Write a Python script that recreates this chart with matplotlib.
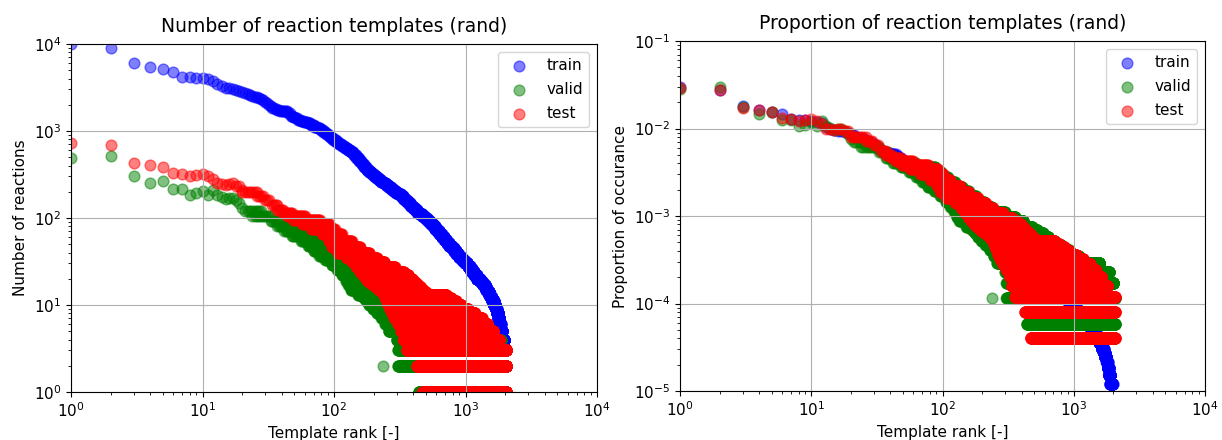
import numpy as np
import matplotlib
matplotlib.use("Agg")
import matplotlib.pyplot as plt

# totals used to turn counts into proportions
TRAIN_TOTAL = 330000
VALID_TOTAL = 17300
TEST_TOTAL = 25000

# train: first 40 ranks read point by point
train_top = [9900, 9000, 6000, 5400, 5150, 4800, 4200, 4150, 4100, 4030, 3930, 3790,
             3440, 3300, 3150, 3080, 3060, 2980, 2900, 2830, 2750, 2670, 2600, 2540,
             2490, 2440, 2400, 2330, 2270, 2180, 2080, 1990, 1920, 1860, 1820, 1790,
             1760, 1740, 1720, 1710]
# train beyond rank 40: count and last rank having that count (sorted curve)
train_level_count = [1695, 1680, 1600, 1500, 1450, 1410, 1330, 1300, 1270, 1220, 1170,
                     1120, 1070, 1020, 970, 920, 875, 820, 780, 740, 710, 680, 645, 610,
                     570, 530, 495, 455, 420, 385, 360, 340, 322, 305, 290, 275, 261, 250,
                     238, 225, 215, 205, 196, 188, 177, 167, 156, 147, 138, 130, 122, 115,
                     110, 105, 100, 95, 90, 85, 80, 75, 70, 65, 60, 56, 52, 48, 45, 42, 39,
                     36, 34, 32, 30, 28, 26, 24, 22, 20, 19, 18, 17, 16, 15, 14, 13, 12,
                     11, 10, 9, 8, 7, 6, 5, 4]
train_level_last = [42, 44, 46, 48, 50, 52, 55, 58, 62, 66, 70, 74, 78, 82, 86, 90, 94,
                    98, 103, 108, 114, 120, 126, 133, 140, 147, 154, 161, 168, 176, 184,
                    192, 200, 209, 218, 227, 237, 247, 258, 270, 282, 295, 308, 322, 336,
                    350, 365, 380, 396, 413, 430, 448, 467, 487, 507, 525, 543, 565, 585,
                    607, 632, 658, 690, 717, 750, 785, 815, 850, 885, 925, 955, 990, 1035,
                    1077, 1120, 1165, 1215, 1285, 1325, 1365, 1410, 1435, 1470, 1515, 1550,
                    1600, 1640, 1690, 1725, 1775, 1810, 1850, 1900, 1975]

# valid / test: first 20 ranks read point by point
valid_top = [493, 520, 304, 255, 266, 215, 216, 184, 192, 205, 185, 210, 185, 175,
             165, 170, 172, 160, 150, 130]
test_top = [734, 684, 432, 404, 385, 326, 320, 304, 312, 320, 305, 278, 250, 245,
            240, 245, 250, 235, 235, 210]

# valid / test beyond rank 20: for each count, first and last rank where it appears
valid_level_count = [120, 105, 92, 80, 70, 62, 55, 48, 42, 37, 33, 29, 25, 22, 19, 17,
                     15, 13, 12, 11, 10, 9, 8, 7, 6, 5, 4, 3, 2, 1]
valid_level_first = [21, 24, 33, 37, 42, 48, 56, 63, 70, 77, 86, 96, 106, 115, 123, 128,
                     134, 152, 168, 176, 185, 198, 212, 229, 245, 260, 300, 307, 307, 440]
valid_level_last = [28, 33, 38, 46, 63, 88, 98, 110, 125, 142, 158, 180, 208, 237, 299,
                    358, 414, 483, 528, 581, 640, 708, 795, 917, 1087, 1570, 1850, 2000,
                    2050, 2050]
valid_extra_rank = [237]
valid_extra_count = [2]

test_level_count = [200, 180, 160, 140, 125, 115, 105, 95, 85, 75, 65, 55, 47, 40, 35,
                    31, 27, 24, 22, 20, 19, 18, 17, 16, 15, 14, 13, 12, 11, 10, 9, 8,
                    7, 6, 5, 4, 3, 2, 1]
test_level_first = [20, 26, 30, 34, 37, 41, 44, 49, 57, 67, 81, 91, 96, 107, 125, 138,
                    148, 158, 166, 174, 180, 188, 198, 208, 219, 232, 240, 245, 251, 258,
                    266, 275, 287, 307, 324, 337, 357, 425, 470]
test_level_last = [26, 29, 32, 37, 41, 48, 60, 78, 92, 101, 115, 136, 158, 186, 213,
                   242, 290, 339, 368, 393, 405, 421, 438, 455, 476, 498, 713, 773, 845,
                   930, 1040, 1172, 1327, 1466, 1617, 1800, 2050, 2050, 2050]


def expand(top, lvl_count, lvl_first, lvl_last, extra_rank=(), extra_count=()):
    ranks = list(range(1, len(top) + 1))
    counts = list(top)
    for c, a, b in zip(lvl_count, lvl_first, lvl_last):
        r = np.arange(a, b + 1)
        ranks.extend(r)
        counts.extend([c] * len(r))
    ranks.extend(extra_rank)
    counts.extend(extra_count)
    return np.array(ranks, dtype=float), np.array(counts, dtype=float)


# train levels are contiguous: each one starts right after the previous one
train_level_first = [len(train_top) + 1] + [r + 1 for r in train_level_last[:-1]]

tr_r, tr_c = expand(train_top, train_level_count, train_level_first, train_level_last)
va_r, va_c = expand(valid_top, valid_level_count, valid_level_first, valid_level_last,
                    valid_extra_rank, valid_extra_count)
te_r, te_c = expand(test_top, test_level_count, test_level_first, test_level_last)

fig = plt.figure(figsize=(12.22, 4.4), dpi=100)
ax1 = fig.add_axes([71 / 1222, 48 / 440, 526 / 1222, 348 / 440])
ax2 = fig.add_axes([680 / 1222, 49 / 440, 525 / 1222, 350 / 440])

panels = [
    (ax1, (1, 1, 1), "Number of reaction templates (rand)", "Number of reactions", (1, 1e4)),
    (ax2, (TRAIN_TOTAL, VALID_TOTAL, TEST_TOTAL), "Proportion of reaction templates (rand)",
     "Proportion of occurance", (1e-5, 1e-1)),
]

for ax, (nt, nv, ns), title, ylabel, ylim in panels:
    ax.scatter(tr_r, tr_c / nt, s=60, c="b", alpha=0.5, label="train")
    ax.scatter(va_r, va_c / nv, s=60, c="g", alpha=0.5, label="valid")
    ax.scatter(te_r, te_c / ns, s=60, c="r", alpha=0.5, label="test")
    ax.set_xscale("log")
    ax.set_yscale("log")
    ax.set_xlim(1, 1e4)
    ax.set_ylim(*ylim)
    ax.grid(True)
    ax.set_title(title, fontsize=13.5, pad=9)
    ax.set_xlabel("Template rank [-]", fontsize=11)
    ax.set_ylabel(ylabel, fontsize=11)
    ax.tick_params(labelsize=11)
    ax.legend(loc="upper right", fontsize=11, labelspacing=0.6)

fig.savefig("out.png", dpi=100)
